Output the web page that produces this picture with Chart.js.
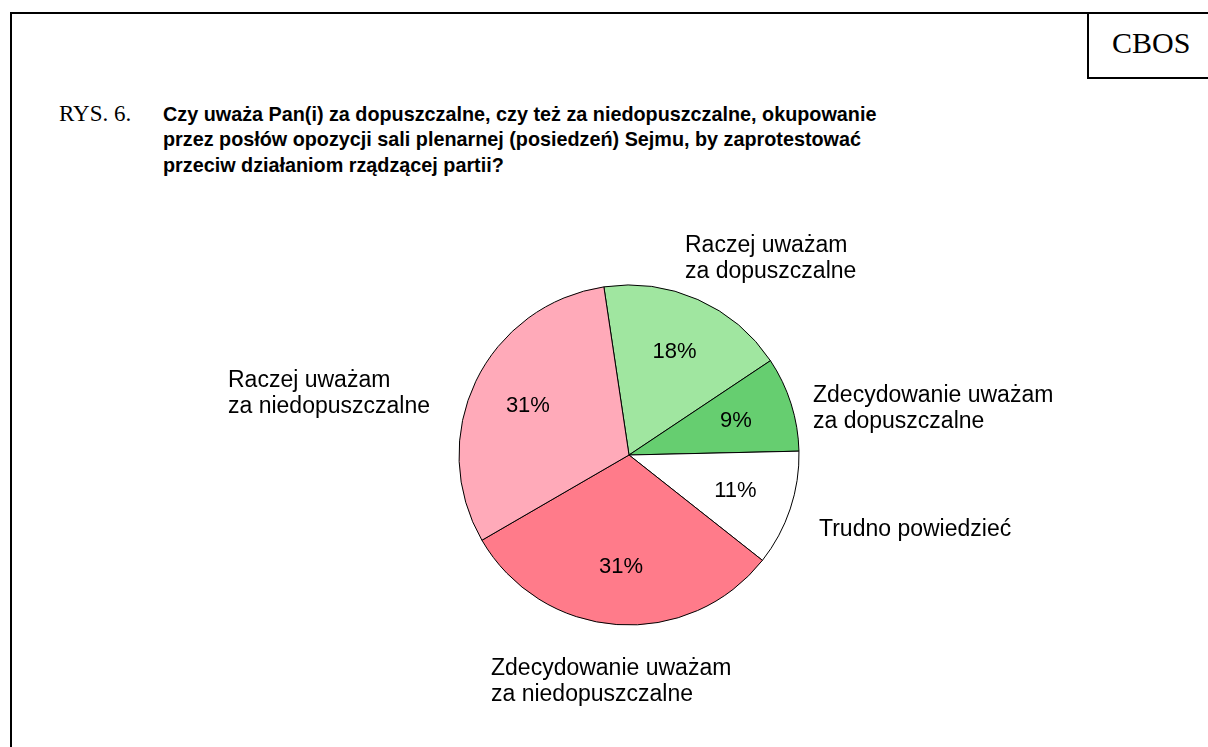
<!DOCTYPE html>
<html lang="pl">
<head>
<meta charset="utf-8">
<title>RYS. 6.</title>
<script src="https://cdn.jsdelivr.net/npm/chart.js@4/dist/chart.umd.min.js"></script>
<style>
  html, body { margin: 0; padding: 0; background: #fff; }
  body { width: 1208px; height: 747px; position: relative; overflow: hidden; }
  #frame { position: absolute; left: 10px; top: 12px; width: 1300px; height: 800px;
           border-left: 2px solid #000; border-top: 2px solid #000; }
  #brand { position: absolute; left: 1087px; top: 12px; width: 200px; height: 65px;
           border-left: 2px solid #000; border-bottom: 2px solid #000; }
  .serif { font-family: "Liberation Serif", "Times New Roman", serif; color: #000; position: absolute; white-space: nowrap; }
  #brandText { left: 1112px; top: 26px; font-size: 30px; line-height: 34px; }
  #fig { left: 59px; top: 101px; font-size: 23px; line-height: 25px; }
  #question { position: absolute; left: 163px; top: 101.6px; font-family: "Liberation Sans", Arial, sans-serif;
              font-weight: bold; font-size: 19.8px; line-height: 25.5px; color: #000; white-space: nowrap; }
  canvas { position: absolute; left: 0; top: 0; }
</style>
</head>
<body>
<div id="frame"></div>
<div id="brand"></div>
<div class="serif" id="brandText">CBOS</div>
<div class="serif" id="fig">RYS. 6.</div>
<div id="question">Czy uważa Pan(i) za dopuszczalne, czy też za niedopuszczalne, okupowanie<br>przez posłów opozycji sali plenarnej (posiedzeń) Sejmu, by zaprotestować<br>przeciw działaniom rządzącej partii?</div>
<canvas id="pie" width="1208" height="747"></canvas>
<script>
// Answer categories, clockwise from the top of the pie
const categories = [
  'Raczej uważam za dopuszczalne',
  'Zdecydowanie uważam za dopuszczalne',
  'Trudno powiedzieć',
  'Zdecydowanie uważam za niedopuszczalne',
  'Raczej uważam za niedopuszczalne'
];
// Share of answers, in percent
const shares = [18, 9, 11, 31, 31];
// Category captions split into lines
const captionLines = [
  ['Raczej uważam', 'za dopuszczalne'],
  ['Zdecydowanie uważam', 'za dopuszczalne'],
  ['Trudno powiedzieć'],
  ['Zdecydowanie uważam', 'za niedopuszczalne'],
  ['Raczej uważam', 'za niedopuszczalne']
];
const sliceColors = ['#A0E6A0', '#66CE70', '#FFFFFF', '#FF7B8A', '#FFAAB9'];

// Caption anchors (left edge, first baseline) relative to the pie centre
const captionOffsets = [
  [56, -203],
  [184, -53],
  [190, 81],
  [-138, 220],
  [-401, -68]
];

const sliceLabels = {
  id: 'sliceLabels',
  afterDatasetsDraw(chart) {
    const ctx = chart.ctx;
    const arcs = chart.getDatasetMeta(0).data;
    const values = chart.data.datasets[0].data;
    ctx.save();
    ctx.fillStyle = '#000';
    arcs.forEach((arc, i) => {
      const { x, y, startAngle, endAngle, outerRadius } = arc.getProps(['x', 'y', 'startAngle', 'endAngle', 'outerRadius'], true);
      const mid = (startAngle + endAngle) / 2;
      const r = outerRadius * 0.66;
      ctx.font = '22px "Liberation Sans", Arial, sans-serif';
      ctx.textAlign = 'center';
      ctx.textBaseline = 'middle';
      ctx.fillText(values[i] + '%', x + Math.cos(mid) * r, y + Math.sin(mid) * r);

      ctx.font = '23px "Liberation Sans", Arial, sans-serif';
      ctx.textAlign = 'left';
      ctx.textBaseline = 'alphabetic';
      const [dx, dy] = captionOffsets[i];
      captionLines[i].forEach((line, k) => {
        ctx.fillText(line, x + dx, y + dy + k * 26);
      });
    });
    ctx.restore();
  }
};

new Chart(document.getElementById('pie'), {
  type: 'pie',
  data: {
    labels: categories,
    datasets: [{
      data: shares,
      backgroundColor: sliceColors,
      borderColor: '#000',
      borderWidth: 1
    }]
  },
  options: {
    responsive: false,
    animation: false,
    rotation: -8.5,
    radius: 170,
    layout: { padding: { left: 459, right: 409, top: 285, bottom: 122 } },
    plugins: {
      legend: { display: false },
      tooltip: { enabled: false }
    }
  },
  plugins: [sliceLabels]
});
</script>
</body>
</html>
